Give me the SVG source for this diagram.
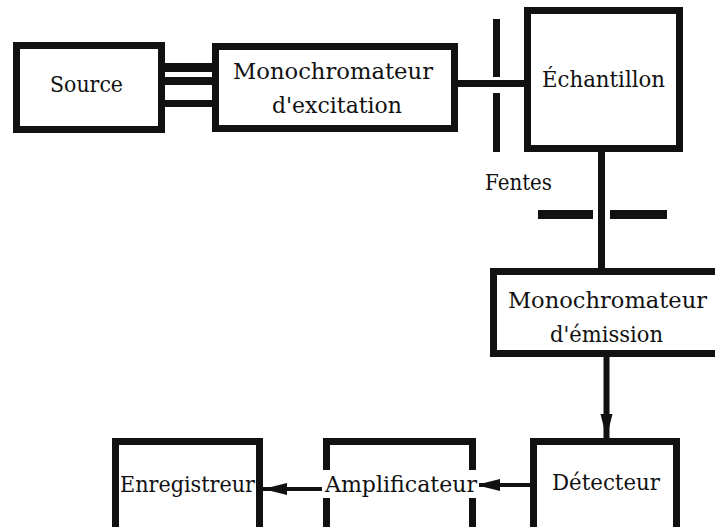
<svg xmlns="http://www.w3.org/2000/svg" width="715" height="527" viewBox="0 0 715 527">
  <style>
    .box { fill: #fff; stroke: #111; stroke-width: 7; }
    .lbl { font-family: "DejaVu Serif", "Liberation Serif", serif; font-size: 22px; fill: #111; }
    .bar { fill: #111; }
    .conn { stroke: #111; fill: none; }
  </style>
  <defs>
    <marker id="ah" markerUnits="userSpaceOnUse" markerWidth="26" markerHeight="14" refX="24" refY="7" orient="auto">
      <path d="M0,1 L24,7 L0,13 Z" fill="#111"/>
    </marker>
  </defs>
  <rect width="715" height="527" fill="#fff"/>

  <g id="connectors">
    <rect class="bar" x="165" y="63" width="47" height="9"/>
    <rect class="bar" x="165" y="77" width="47" height="8"/>
    <rect class="bar" x="165" y="100" width="47" height="7"/>
    <rect class="bar" x="458" y="80" width="66" height="7"/>
    <rect class="bar" x="598" y="152" width="7" height="116"/>
    <line class="conn" x1="606.5" y1="357" x2="606.5" y2="438" stroke-width="6" marker-end="url(#ah)"/>
    <line class="conn" x1="530" y1="485" x2="476" y2="485" stroke-width="4" marker-end="url(#ah)"/>
    <line class="conn" x1="323" y1="489" x2="263" y2="489" stroke-width="4" marker-end="url(#ah)"/>
  </g>

  <g id="fentes">
    <rect class="bar" x="493" y="19" width="7" height="58"/>
    <rect class="bar" x="493" y="93" width="7" height="59"/>
    <rect class="bar" x="538" y="210" width="55" height="9"/>
    <rect class="bar" x="610" y="210" width="57" height="9"/>
    <text class="lbl" x="485" y="190" textLength="67" lengthAdjust="spacingAndGlyphs">Fentes</text>
  </g>

  <g id="source">
    <rect class="box" x="16.5" y="45.5" width="145" height="84"/>
    <text class="lbl" x="50" y="92" textLength="73" lengthAdjust="spacingAndGlyphs">Source</text>
  </g>

  <g id="mono-excitation">
    <rect class="box" x="215.5" y="46.5" width="239" height="82"/>
    <text class="lbl" x="233" y="79" textLength="200" lengthAdjust="spacingAndGlyphs">Monochromateur</text>
    <text class="lbl" x="272" y="113" textLength="130" lengthAdjust="spacingAndGlyphs">d'excitation</text>
  </g>

  <g id="echantillon">
    <rect class="box" x="527.5" y="10.5" width="152" height="138"/>
    <text class="lbl" x="542" y="87" textLength="123" lengthAdjust="spacingAndGlyphs">Échantillon</text>
  </g>

  <g id="mono-emission">
    <rect class="box" x="493.5" y="271.5" width="240" height="82"/>
    <text class="lbl" x="508" y="308" textLength="199" lengthAdjust="spacingAndGlyphs">Monochromateur</text>
    <text class="lbl" x="550" y="342" textLength="113" lengthAdjust="spacingAndGlyphs">d'émission</text>
  </g>

  <g id="detecteur">
    <rect class="box" x="533.5" y="441.5" width="143" height="100"/>
    <text class="lbl" x="552" y="490" textLength="108" lengthAdjust="spacingAndGlyphs">Détecteur</text>
  </g>

  <g id="amplificateur">
    <rect class="box" x="326.5" y="441.5" width="146" height="100"/>
    <rect x="322" y="470" width="157" height="28" fill="#fff"/>
    <text class="lbl" x="325" y="492" textLength="152" lengthAdjust="spacingAndGlyphs">Amplificateur</text>
  </g>

  <g id="enregistreur">
    <rect class="box" x="115.5" y="441.5" width="144" height="100"/>
    <text class="lbl" x="120" y="492" textLength="135" lengthAdjust="spacingAndGlyphs">Enregistreur</text>
  </g>
</svg>
